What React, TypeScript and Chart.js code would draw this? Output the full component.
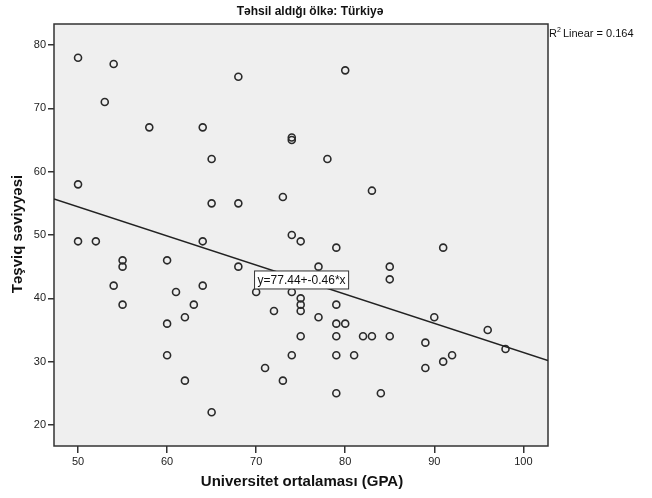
import React, { useEffect, useRef } from "react";
import { Chart, registerables } from "chart.js";

Chart.register(...registerables);

const chartTitle = "Təhsil aldığı ölkə: Türkiyə";
const xAxisTitle = "Universitet ortalaması (GPA)";
const yAxisTitle = "Təşviq səviyyəsi";
const r2Label = "Linear = 0.164";
const fitLabel = "y=77.44+-0.46*x";

const gpaValues = [
  50, 54, 53, 58, 64, 68, 80, 65, 50, 74, 74, 78, 83, 73, 65, 68, 50, 52, 64, 74,
  75, 79, 91, 55, 55, 60, 54, 64, 61, 68, 77, 85, 85, 55, 63, 62, 60, 60, 62, 65,
  70, 74, 75, 75, 75, 72, 79, 77, 79, 80, 75, 79, 82, 83, 85, 74, 79, 81, 71, 73,
  79, 84, 90, 96, 98, 89, 91, 92, 89,
];
const motivationValues = [
  78, 77, 71, 67, 67, 75, 76, 62, 58, 65, 65.4, 62, 57, 56, 55, 55, 49, 49, 49, 50,
  49, 48, 48, 46, 45, 46, 42, 42, 41, 45, 45, 45, 43, 39, 39, 37, 36, 31, 27, 22,
  41, 41, 40, 39, 38, 38, 39, 37, 36, 36, 34, 34, 34, 34, 34, 31, 31, 31, 29, 27,
  25, 25, 37, 35, 32, 33, 30, 31, 29,
];
const fitIntercept = 77.44;
const fitSlope = -0.46;
const xTicks = [50, 60, 70, 80, 90, 100];
const yTicks = [20, 30, 40, 50, 60, 70, 80];
const xRange = [47.3, 102.77];
const yRange = [16.68, 83.32];
const fitLabelAt = [75.1, 42.9];

const FONT = "'Liberation Sans', Arial, sans-serif";

export default function App() {
  const ref = useRef<HTMLCanvasElement | null>(null);

  useEffect(() => {
    if (!ref.current) return;
    const points = gpaValues.map((x, i) => ({ x, y: motivationValues[i] }));
    const fitLine = xRange.map((x) => ({ x, y: fitIntercept + fitSlope * x }));

    const decor = {
      id: "decor",
      beforeDraw(chart: any) {
        const { ctx, chartArea: a } = chart;
        ctx.save();
        ctx.fillStyle = "#ffffff";
        ctx.fillRect(0, 0, chart.width, chart.height);
        ctx.fillStyle = "#efefef";
        ctx.fillRect(a.left, a.top, a.right - a.left, a.bottom - a.top);
        ctx.restore();
      },
      beforeDatasetsDraw(chart: any) {
        const { ctx, chartArea: a } = chart;
        ctx.save();
        ctx.strokeStyle = "#333";
        ctx.lineWidth = 1.5;
        ctx.strokeRect(a.left, a.top, a.right - a.left, a.bottom - a.top);
        ctx.restore();
      },
      afterDraw(chart: any) {
        const { ctx, chartArea: a, scales } = chart;
        ctx.save();
        ctx.fillStyle = "#111";
        ctx.textAlign = "center";
        ctx.textBaseline = "middle";
        ctx.font = `bold 12px ${FONT}`;
        ctx.fillText(chartTitle, 310, 12);
        ctx.font = `bold 15px ${FONT}`;
        ctx.fillText(xAxisTitle, 302, 482);
        ctx.save();
        ctx.translate(18, 234);
        ctx.rotate(-Math.PI / 2);
        ctx.fillText(yAxisTitle, 0, 0);
        ctx.restore();
        // R² label
        ctx.textAlign = "left";
        ctx.font = `11px ${FONT}`;
        ctx.fillText("R", a.right + 1, 34);
        const rw = ctx.measureText("R").width;
        ctx.font = `7px ${FONT}`;
        ctx.fillText("2", a.right + 1 + rw, 30);
        ctx.font = `11px ${FONT}`;
        ctx.fillText(r2Label, a.right + 1 + rw + 6, 34);
        // fit label
        const cx = scales.x.getPixelForValue(fitLabelAt[0]);
        const cy = scales.y.getPixelForValue(fitLabelAt[1]);
        ctx.font = `12px ${FONT}`;
        const tw = ctx.measureText(fitLabel).width;
        const bw = tw + 6;
        const bh = 18;
        ctx.fillStyle = "#ffffff";
        ctx.fillRect(cx - bw / 2, cy - bh / 2, bw, bh);
        ctx.strokeStyle = "#333";
        ctx.lineWidth = 1;
        ctx.strokeRect(cx - bw / 2, cy - bh / 2, bw, bh);
        ctx.fillStyle = "#111";
        ctx.textAlign = "center";
        ctx.fillText(fitLabel, cx, cy + 1);
        ctx.restore();
      },
    };

    const chart = new Chart(ref.current, {
      type: "scatter",
      data: {
        datasets: [
          {
            type: "line",
            data: fitLine,
            borderColor: "#222",
            borderWidth: 1.5,
            pointRadius: 0,
            fill: false,
          } as any,
          {
            data: points,
            pointRadius: 3.5,
            pointBorderWidth: 1.6,
            pointBackgroundColor: "rgba(0,0,0,0)",
            pointBorderColor: "#2a2a2a",
          },
        ],
      },
      options: {
        animation: false,
        responsive: false,
        layout: { padding: { left: 0, top: 24, right: 104, bottom: 0 } },
        plugins: {
          legend: { display: false },
          tooltip: { enabled: false },
          title: { display: false },
        },
        scales: {
          x: {
            type: "linear",
            min: xRange[0],
            max: xRange[1],
            afterBuildTicks: (s: any) => {
              s.ticks = xTicks.map((v) => ({ value: v }));
            },
            afterFit: (s: any) => {
              s.height = 52;
            },
            border: { display: false },
            grid: {
              display: true,
              drawOnChartArea: false,
              drawTicks: true,
              tickLength: 7,
              color: "#333",
              lineWidth: 1.5,
            },
            ticks: {
              padding: 2,
              color: "#222",
              font: { family: FONT, size: 11 },
              maxRotation: 0,
            },
          },
          y: {
            type: "linear",
            min: yRange[0],
            max: yRange[1],
            afterBuildTicks: (s: any) => {
              s.ticks = yTicks.map((v) => ({ value: v }));
            },
            afterFit: (s: any) => {
              s.width = 54;
            },
            border: { display: false },
            grid: {
              display: true,
              drawOnChartArea: false,
              drawTicks: true,
              tickLength: 6,
              color: "#333",
              lineWidth: 1.5,
            },
            ticks: {
              padding: 2,
              color: "#222",
              font: { family: FONT, size: 11 },
            },
          },
        },
      },
      plugins: [decor],
    });
    return () => chart.destroy();
  }, []);

  return (
    <div style={{ position: "fixed", left: 0, top: 0, width: 652, height: 498 }}>
      <canvas ref={ref} width={652} height={498} style={{ display: "block" }} />
    </div>
  );
}
